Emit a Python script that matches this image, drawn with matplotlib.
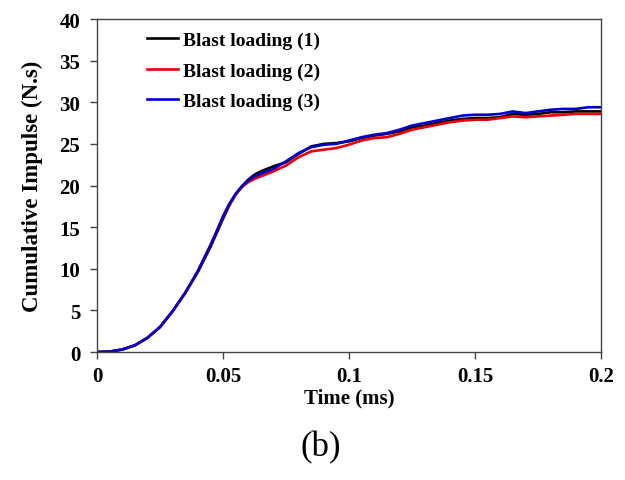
import numpy as np
import matplotlib
matplotlib.use("Agg")
import matplotlib.pyplot as plt

plt.rcParams['font.family'] = ['Liberation Serif', 'DejaVu Serif']

# cumulative impulse vs time for the three blast loadings
time_ms = [0, 0.005, 0.01, 0.015, 0.02, 0.025, 0.03, 0.035, 0.04, 0.045,
           0.0475, 0.05, 0.0525, 0.055, 0.0575, 0.06, 0.0625, 0.065, 0.0675,
           0.07, 0.075, 0.08, 0.085, 0.09, 0.095,
           0.1, 0.105, 0.11, 0.115, 0.12, 0.125, 0.13, 0.135, 0.14, 0.145,
           0.15, 0.155, 0.16, 0.165, 0.17, 0.175, 0.18, 0.185, 0.19, 0.195, 0.2]

imp_1 = [0, 0.05, 0.3, 0.8, 1.7, 3.0, 4.9, 7.1, 9.6, 12.6,
         14.3, 16.0, 17.6, 18.9, 19.9, 20.7, 21.3, 21.7, 22.0,
         22.3, 22.8, 23.8, 24.7, 25.0, 25.1,
         25.3, 25.7, 26.0, 26.2, 26.5, 27.0, 27.2, 27.5, 27.8, 28.0,
         28.1, 28.1, 28.2, 28.6, 28.5, 28.6, 28.8, 28.8, 28.9, 28.9, 28.9]

imp_2 = [0, 0.05, 0.3, 0.8, 1.7, 3.0, 4.9, 7.1, 9.7, 12.8,
         14.5, 16.2, 17.7, 18.9, 19.8, 20.4, 20.8, 21.1, 21.4,
         21.7, 22.4, 23.4, 24.1, 24.3, 24.5,
         24.9, 25.4, 25.7, 25.8, 26.2, 26.7, 27.0, 27.3, 27.6, 27.8,
         27.9, 27.9, 28.1, 28.3, 28.2, 28.3, 28.4, 28.5, 28.6, 28.6, 28.6]

imp_3 = [0, 0.05, 0.3, 0.8, 1.7, 3.0, 4.9, 7.1, 9.7, 12.8,
         14.5, 16.3, 17.8, 19.0, 19.9, 20.6, 21.1, 21.4, 21.7,
         22.0, 22.9, 23.9, 24.6, 24.9, 25.0,
         25.4, 25.8, 26.1, 26.3, 26.7, 27.2, 27.5, 27.8, 28.1, 28.4,
         28.5, 28.5, 28.6, 28.9, 28.7, 28.9, 29.1, 29.2, 29.2, 29.4, 29.4]

labels = ["Blast loading (1)", "Blast loading (2)", "Blast loading (3)"]
colors = ["black", "#e8000b", "#0000cc"]

fig = plt.figure(figsize=(6.25, 4.81), dpi=100)
ax = fig.add_axes([0.1552, 0.2661, 0.8064, 0.6923])

for y, lab, col in zip([imp_1, imp_2, imp_3], labels, colors):
    ax.plot(time_ms, y, color=col, lw=1.9, label=lab)

ax.set_xlim(0, 0.2)
ax.set_ylim(0, 40)
ax.set_xticks([0, 0.05, 0.1, 0.15, 0.2])
ax.set_xticklabels(["0", "0.05", "0.1", "0.15", "0.2"])
ax.set_yticks(range(0, 41, 5))

for sp in ax.spines.values():
    sp.set_color("#444444")
    sp.set_linewidth(1.0)
ax.tick_params(direction="out", length=5, width=1.0, color="#444444",
               labelsize=15)
ax.tick_params(axis="x", pad=5)
ax.tick_params(axis="y", pad=7)
for t in ax.get_xticklabels() + ax.get_yticklabels():
    t.set_fontweight("bold")

ax.set_xlabel("Time (ms)", fontsize=15, fontweight="bold", labelpad=1)
ax.set_ylabel("Cumulative Impulse (N.s)", fontsize=16.5, fontweight="bold", labelpad=12)

ax.legend(loc="upper left", bbox_to_anchor=(0.065, 1.015), frameon=False,
          prop={"weight": "bold", "size": 14}, handlelength=1.6,
          handletextpad=0.25, labelspacing=0.66)

fig.text(0.514, 0.07, "(b)", fontsize=25, ha="center", va="center")

fig.savefig("out.png", dpi=100)
